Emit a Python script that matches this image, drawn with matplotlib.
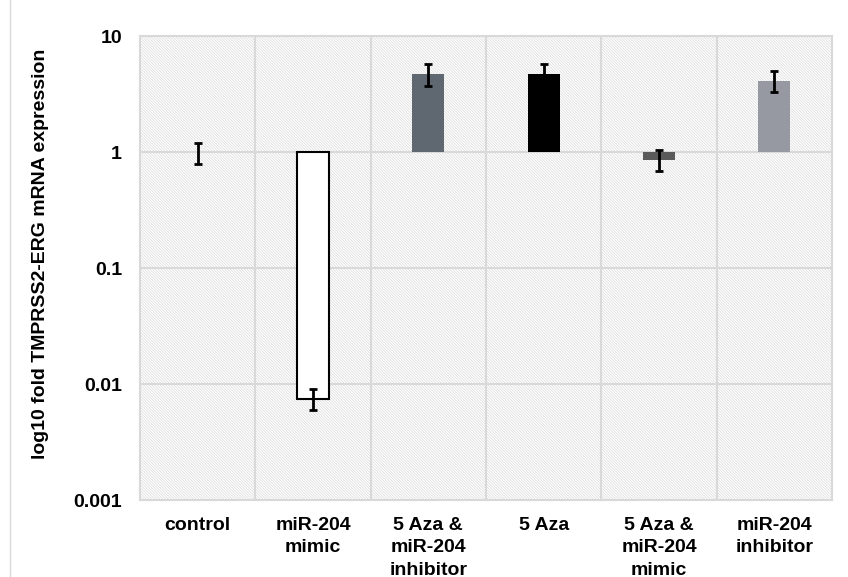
import matplotlib.pyplot as plt
from matplotlib.patches import Rectangle
from matplotlib.lines import Line2D

plt.rcParams['font.family'] = ['Liberation Sans', 'DejaVu Sans']
plt.rcParams['hatch.linewidth'] = 0.5

# data
groups = ["control", "miR-204\nmimic", "5 Aza &\nmiR-204\ninhibitor", "5 Aza",
          "5 Aza &\nmiR-204\nmimic", "miR-204\ninhibitor"]
fold = [1.0, 0.0074, 4.7, 4.7, 0.85, 4.1]
err_low = [0.79, 0.006, 3.73, 3.8, 0.69, 3.3]
err_high = [1.2, 0.0091, 5.7, 5.7, 1.04, 5.0]
bar_colors = ["#ffffff", "#ffffff", "#5f6870", "#000000", "#5a5a5a", "#9699a1"]
bar_edges = ["none", "#000000", "none", "none", "none", "none"]

fig = plt.figure(figsize=(8.48, 5.77), dpi=100)
ax = fig.add_axes([0.1651, 0.1334, 0.816, 0.8042])

x = list(range(len(groups)))
ax.set_yscale('log')
ax.set_ylim(0.001, 10)
ax.set_xlim(-0.5, len(groups) - 0.5)

# hatched plot background
ax.add_patch(Rectangle((0, 0), 1, 1, transform=ax.transAxes, facecolor='white',
                       edgecolor='#dadada', linewidth=0, hatch='\\' * 12, zorder=0))

# grid
for v in [0.01, 0.1, 1, 10]:
    ax.axhline(v, color='#d9d9d9', lw=1.5, zorder=1)
for b in range(1, len(groups)):
    ax.axvline(b - 0.5, color='#d9d9d9', lw=1.5, zorder=1)

heights = [f - 1 for f in fold]
ax.bar(x, heights, bottom=1, width=0.28, color=bar_colors, edgecolor=bar_edges,
       linewidth=1.5, zorder=2)

lower = [f - l for f, l in zip(fold, err_low)]
upper = [h - f for f, h in zip(fold, err_high)]
ax.errorbar(x, fold, yerr=[lower, upper], fmt='none', ecolor='black',
            elinewidth=2, capsize=3, capthick=2, zorder=3)

for s in ax.spines.values():
    s.set_color('#d9d9d9')
    s.set_linewidth(1.5)

ax.set_xticks(x)
ax.set_xticklabels(groups, fontsize=14, fontweight='bold', va='top', linespacing=1.42)
ax.set_yticks([0.001, 0.01, 0.1, 1, 10])
ax.set_yticklabels(["0.001", "0.01", "0.1", "1", "10"], fontsize=14, fontweight='bold')
ax.minorticks_off()
ax.tick_params(axis='x', length=0, pad=12)
ax.tick_params(axis='y', length=0, pad=13)
ax.set_ylabel("log10 fold TMPRSS2-ERG mRNA expression", fontsize=14, fontweight='bold')
ax.yaxis.set_label_coords(-0.1315, 0.53)

fig.add_artist(Line2D([10 / 848, 10 / 848], [0, 1], transform=fig.transFigure,
                      color='#d9d9d9', lw=1))

fig.savefig("out.png", dpi=100)
